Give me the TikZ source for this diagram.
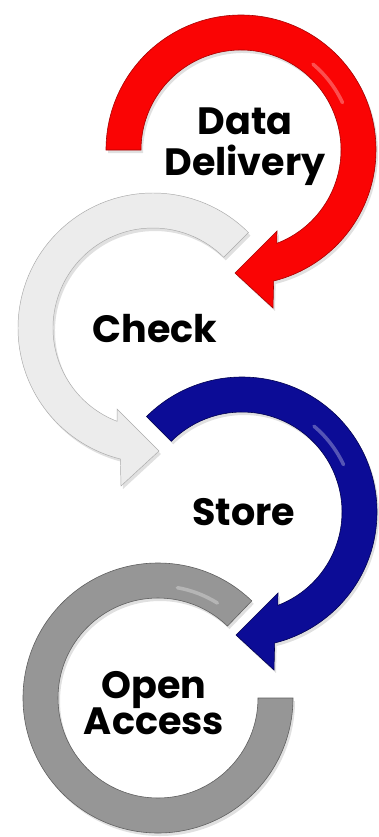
\documentclass[tikz,border=0pt]{standalone}
\usepackage{fontspec}
\newfontfamily\lblfont{Poppins}
\definecolor{redfill}{RGB}{250,4,4}
\definecolor{rededge}{RGB}{165,0,0}
\definecolor{bluefill}{RGB}{12,12,150}
\definecolor{blueedge}{RGB}{0,0,80}
\definecolor{ltfill}{RGB}{236,236,236}
\definecolor{ltedge}{RGB}{170,170,170}
\definecolor{dkfill}{RGB}{150,150,150}
\definecolor{dkedge}{RGB}{95,95,95}
\begin{document}
\begin{tikzpicture}[x=0.03cm,y=0.03cm,
  pics/cwarrow/.style={code={
    \path[pic actions] (#1:135) arc[start angle=#1,end angle=-76,radius=135]
      -- (32,-158) -- (-6,-123) -- (36,-81) -- (-69:100)
      arc[start angle=-69,end angle=#1,radius=100] -- cycle;
  }},
  pics/ring/.style={code={
    \path[pic actions] (46:135) arc[start angle=46,end angle=360,radius=135]
      -- (0:100) arc[start angle=360,end angle=46,radius=100] -- cycle;
  }},
  pics/gloss/.style n args={2}{code={
    \draw[white,opacity=.3,line width=3pt,line cap=round]
      (#1:112) arc[start angle=#1,end angle=#2,radius=112];
  }},
  shadow/.style={fill=black,opacity=.12},
  label/.style={font=\lblfont\bfseries\fontsize{32.5}{33}\selectfont,align=center,inner sep=0pt},
]
\fill[white] (0,0) rectangle (378,-837);
\useasboundingbox (0,0) rectangle (378,-837);

% shadows
\pic[shadow] at (243,-153) {cwarrow=180};
\pic[shadow,xscale=-1] at (155,-331) {cwarrow=135};
\pic[shadow] at (244,-515) {cwarrow=135};
\pic[shadow] at (160,-701) {ring};

% arrows
\pic[fill=redfill,draw=rededge,line width=0.5pt] (red) at (241,-150) {cwarrow=180};
\pic (redg) at (241,-150) {gloss={25}{50}};
\pic[fill=ltfill,draw=ltedge,line width=0.4pt,xscale=-1] (light) at (153,-328) {cwarrow=135};
\pic[fill=bluefill,draw=blueedge,line width=0.5pt] (blue) at (242,-512) {cwarrow=135};
\pic (blueg) at (242,-512) {gloss={25}{50}};
\pic[fill=dkfill,draw=dkedge,line width=0.5pt] (grey) at (158,-698) {ring};
\pic (greyg) at (158,-698) {gloss={58}{80}};

% labels
\node[label] (dd) at (245,-147) {Data\\[2pt]Delivery};
\node[label] (check) at (155,-329) {Check};
\node[label] (store) at (244,-512) {Store};
\node[label] (oa) at (154,-703) {Open\\[-2pt]Access};
\end{tikzpicture}
\end{document}
